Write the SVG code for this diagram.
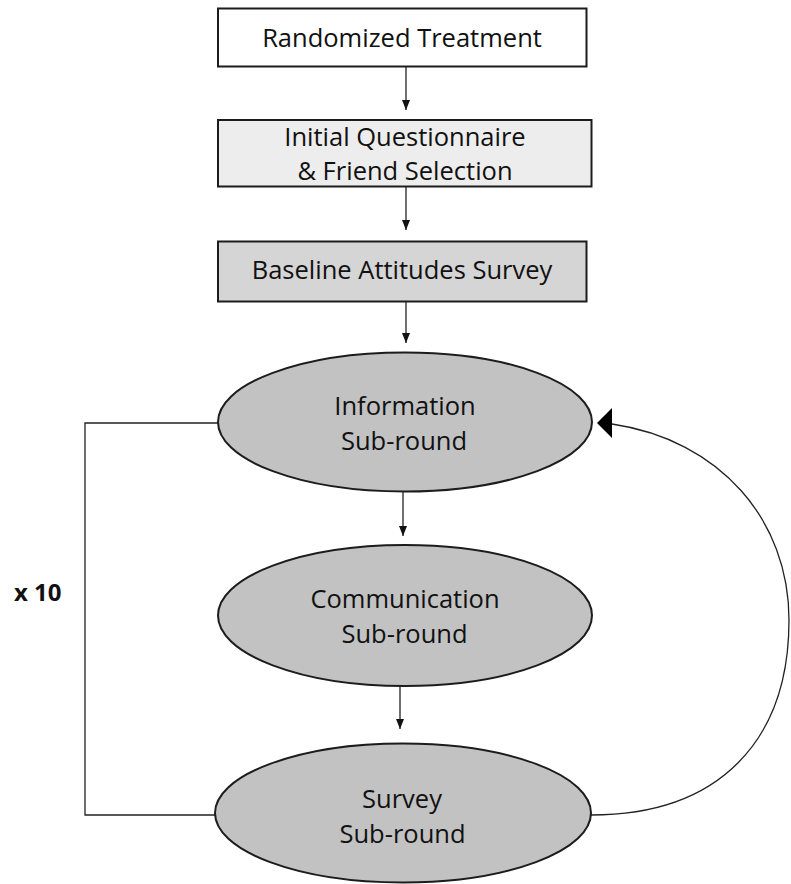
<svg xmlns="http://www.w3.org/2000/svg" width="791" height="884" viewBox="0 0 791 884">
  <defs>
    <style>
      .box { stroke: #1c1c1c; stroke-width: 2; }
      .ell { fill: #c2c2c2; stroke: #1c1c1c; stroke-width: 2; }
      .lbl { font-family: "Open Sans", "Liberation Sans", sans-serif; font-size: 25.5px; fill: #111; text-anchor: middle; }
      .conn { fill: none; stroke: #222; stroke-width: 1.3; }
    </style>
    <marker id="arr" markerUnits="userSpaceOnUse" markerWidth="10" markerHeight="10" viewBox="0 0 10 8" refX="10" refY="4" orient="auto">
      <path d="M0,0 L10,4 L0,8 Z" fill="#111"/>
    </marker>
  </defs>
  <rect width="791" height="884" fill="#ffffff"/>

  <g id="connectors">
    <line class="conn" x1="406" y1="67" x2="406" y2="110" marker-end="url(#arr)"/>
    <line class="conn" x1="406" y1="187" x2="406" y2="230" marker-end="url(#arr)"/>
    <line class="conn" x1="406" y1="302" x2="406" y2="343" marker-end="url(#arr)"/>
    <line class="conn" x1="403" y1="492" x2="403" y2="536" marker-end="url(#arr)"/>
    <line class="conn" x1="400" y1="686" x2="400" y2="729" marker-end="url(#arr)"/>
    <polyline class="conn" points="218,423 85,423 85,815 215,815"/>
    <path class="conn" d="M591,815 C720,815 789,740 789,620 C789,520 720,440 612,424"/>
    <path d="M597,423 L612,408 L612,438 Z" fill="#000"/>
  </g>

  <g id="randomized-treatment">
    <rect class="box" x="218" y="8.5" width="368.5" height="58" fill="#ffffff"/>
    <text class="lbl" x="402" y="47">Randomized Treatment</text>
  </g>

  <g id="initial-questionnaire">
    <rect class="box" x="218" y="120" width="373.5" height="66.5" fill="#ededed"/>
    <text class="lbl" x="405" y="146">Initial Questionnaire</text>
    <text class="lbl" x="405" y="180">&amp; Friend Selection</text>
  </g>

  <g id="baseline-survey">
    <rect class="box" x="218" y="241.5" width="368.5" height="60" fill="#d5d5d5"/>
    <text class="lbl" x="402" y="278.5">Baseline Attitudes Survey</text>
  </g>

  <g id="information-subround">
    <ellipse class="ell" cx="405" cy="422" rx="187" ry="69.5"/>
    <text class="lbl" x="405" y="414.5">Information</text>
    <text class="lbl" x="404" y="449.5">Sub-round</text>
  </g>

  <g id="communication-subround">
    <ellipse class="ell" cx="405" cy="615.5" rx="187" ry="70.5"/>
    <text class="lbl" x="405" y="607.5">Communication</text>
    <text class="lbl" x="404.5" y="642.5">Sub-round</text>
  </g>

  <g id="survey-subround">
    <ellipse class="ell" cx="403" cy="813" rx="188" ry="69.5"/>
    <text class="lbl" x="402" y="808">Survey</text>
    <text class="lbl" x="402.5" y="843">Sub-round</text>
  </g>

  <g id="repeat-label">
    <text x="14" y="601" font-family="'Open Sans', 'Liberation Sans', sans-serif" font-size="24" font-weight="bold" fill="#111">x 10</text>
  </g>
</svg>
